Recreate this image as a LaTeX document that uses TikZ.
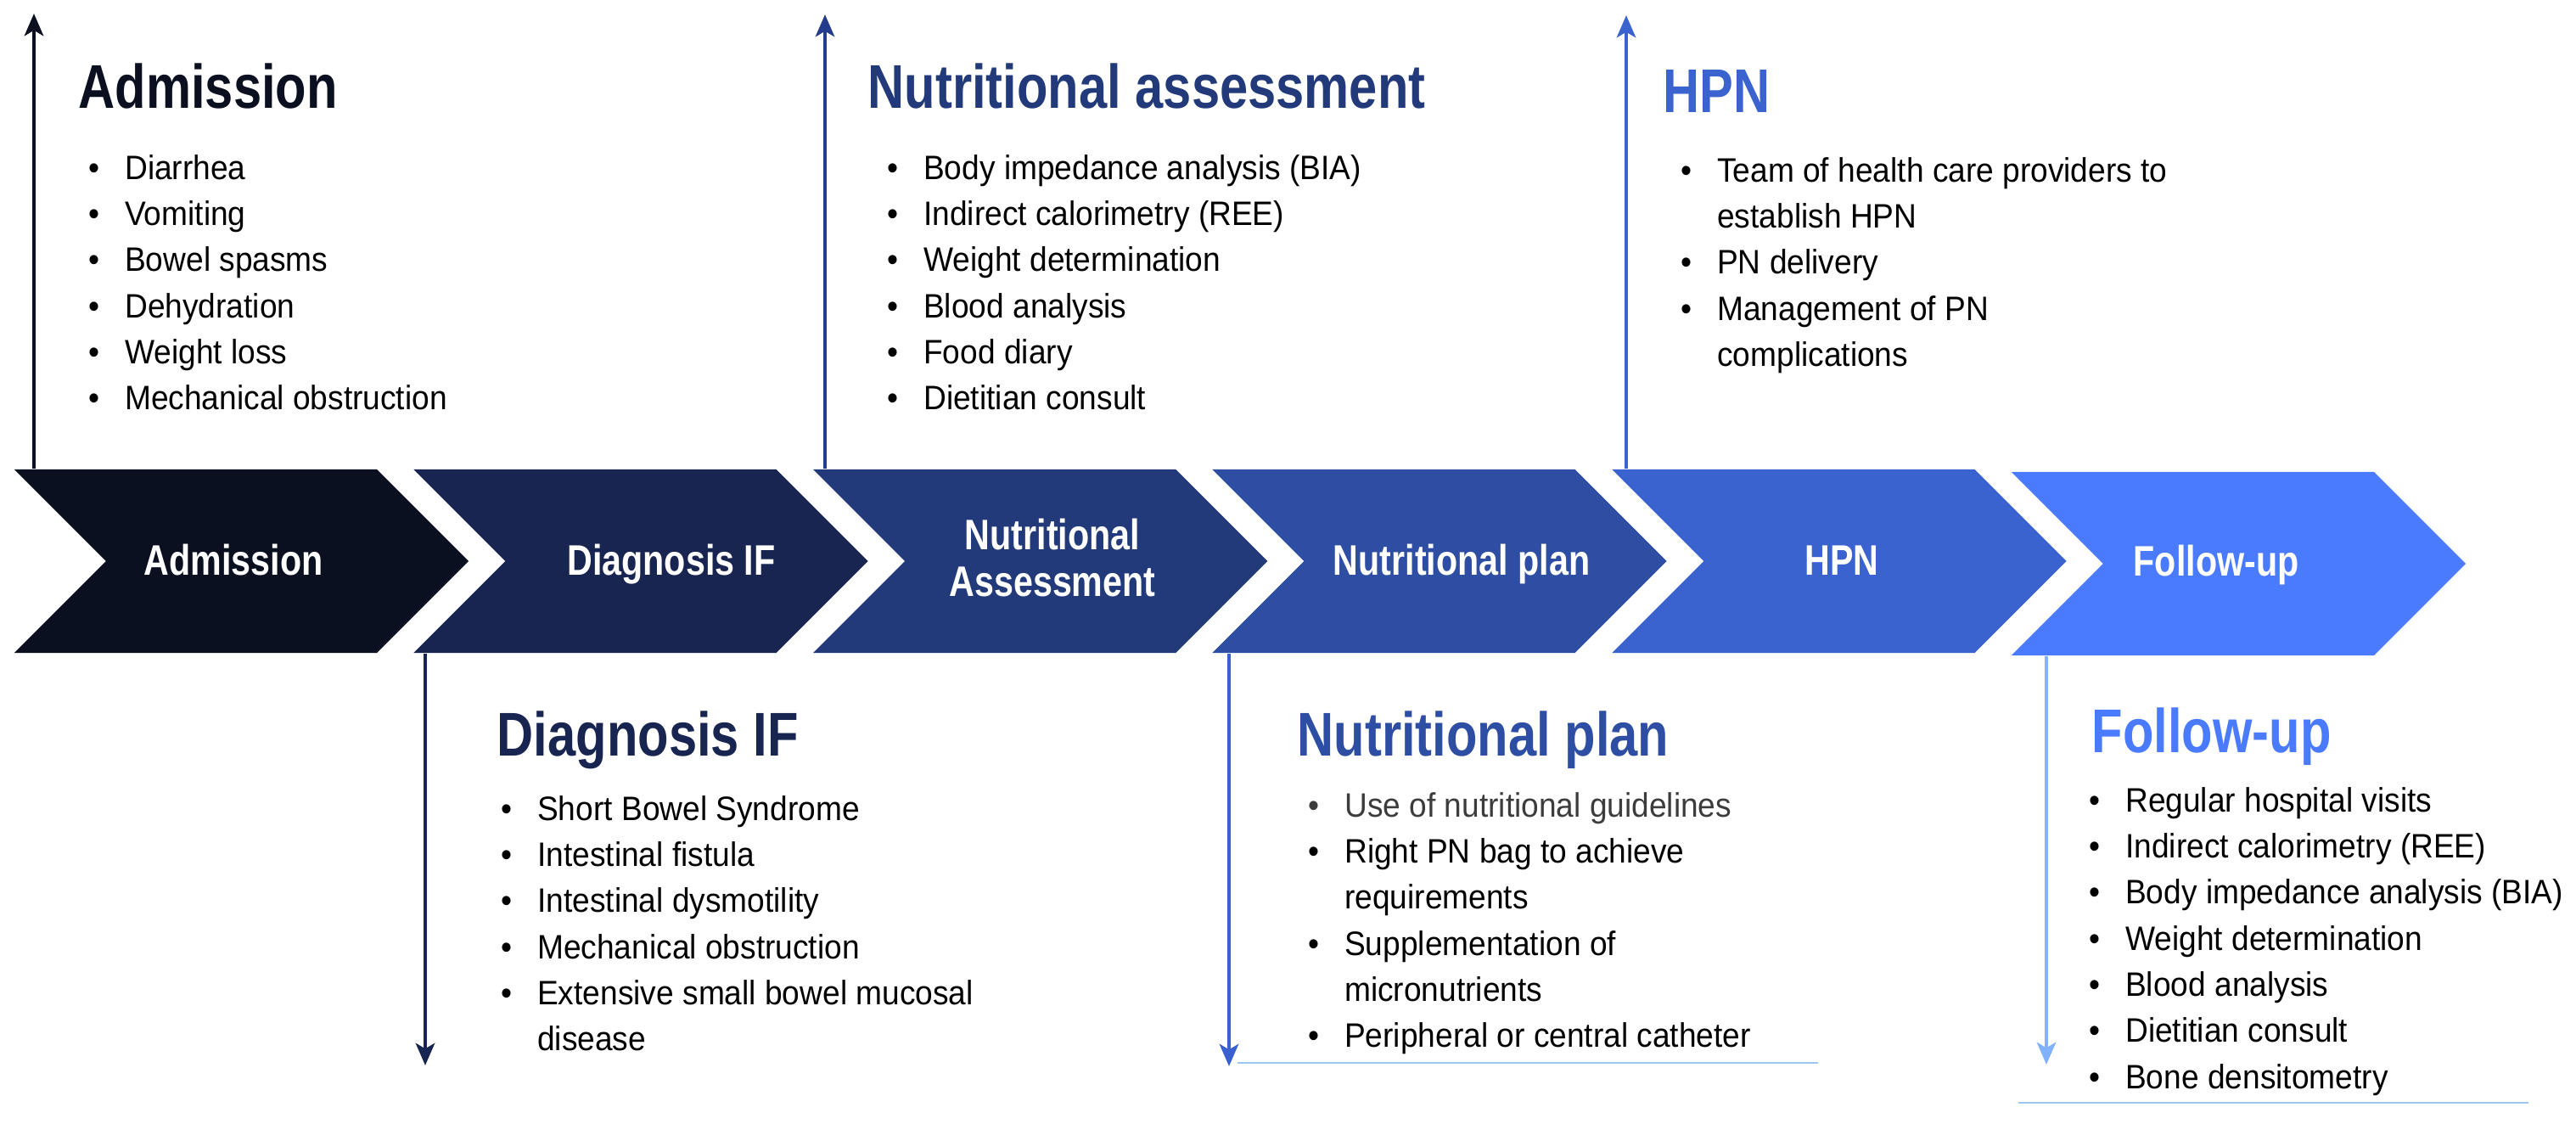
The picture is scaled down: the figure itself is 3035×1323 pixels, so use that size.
\documentclass[tikz,border=0pt]{standalone}
\usepackage{fontspec}
\setmainfont{Liberation Sans}[FakeStretch=0.93]
\newfontfamily\headfont{Liberation Sans}[FakeStretch=0.82]
\usetikzlibrary{arrows.meta,shapes.symbols}
\definecolor{stageA}{HTML}{0B1021}
\definecolor{stageB}{HTML}{172550}
\definecolor{stageC}{HTML}{223A7A}
\definecolor{stageD}{HTML}{2E4EA3}
\definecolor{stageE}{HTML}{3B63CF}
\definecolor{stageF}{HTML}{4A7BFF}
\definecolor{arrowC}{HTML}{253C8C}
\definecolor{arrowD}{HTML}{3A5FD0}
\definecolor{arrowF}{HTML}{82B1FF}
\definecolor{ruleblue}{HTML}{9CC6F2}
\definecolor{greytext}{HTML}{3C3C3C}
\tikzset{
  stem/.style = {line width=1.4pt, -{Stealth[length=7.4pt, width=6.3pt, inset=1.8pt]}},
  rule/.style = {ruleblue, line width=0.6pt}
}

\begin{document}
\begin{tikzpicture}[x=0.01cm, y=-0.01cm,
  chevron/.style = {signal, signal from=west, signal to=east, signal pointer angle=90, minimum width=5.35cm, minimum height=2.16cm, inner sep=0pt},
  stage/.style   = {white, anchor=base, align=center, inner sep=0pt, font=\headfont\bfseries\fontsize{14.3}{15.4}\selectfont},
  title/.style   = {anchor=base west, inner sep=0pt, font=\headfont\bfseries\fontsize{20.7}{24}\selectfont},
  items/.style   = {anchor=base west, inner sep=0pt, font=\fontsize{11.35}{15.45}\selectfont},
  ]
  \useasboundingbox (0,0) rectangle (3035,1323);
  % chevrons
  \node[chevron, fill=stageA] (adm)  at (284.5,661) {};
  \node[chevron, fill=stageB] (diag) at (755,661)   {};
  \node[chevron, fill=stageC] (nass) at (1225.7,661) {};
  \node[chevron, fill=stageD] (plan) at (1696,661)  {};
  \node[chevron, fill=stageE] (hpn)  at (2167,661)  {};
  \node[chevron, fill=stageF] (fol)  at (2637.5,664) {};
  \node[stage] (admtxt)  at (275,677)  {Admission};
  \node[stage] (diagtxt) at (791,677)  {Diagnosis IF};
  \node[stage] (nasstxt) at (1240,702) {Nutritional\\Assessment};
  \node[stage] (plantxt) at (1722,677) {Nutritional plan};
  \node[stage] (hpntxt)  at (2170,677) {HPN};
  \node[stage] (foltxt)  at (2611,678) {Follow-up};
  % arrows
  \coordinate (admup)   at (40,16);
  \coordinate (diagdn)  at (501,1255);
  \coordinate (nassup)  at (972,17);
  \coordinate (plandn)  at (1448,1256);
  \coordinate (hpnup)   at (1916,18);
  \coordinate (foldn)   at (2411,1254);
  \draw[stem, stageA] (admup |- adm.north)   -- (admup);
  \draw[stem, stageB] (diagdn |- diag.south) -- (diagdn);
  \draw[stem, arrowC] (nassup |- nass.north) -- (nassup);
  \draw[stem, arrowD] (plandn |- plan.south) -- (plandn);
  \draw[stem, stageE] (hpnup |- hpn.north)   -- (hpnup);
  \draw[stem, arrowF] (foldn |- fol.south)   -- (foldn);
  % titles
  \node[title, stageA] (admhead)  at (92,127)   {Admission};
  \node[title, stageB] (diaghead) at (585,890)  {Diagnosis IF};
  \node[title, stageC] (nasshead) at (1022,127) {Nutritional assessment};
  \node[title, stageD] (planhead) at (1528,890) {Nutritional plan};
  \node[title, stageE] (hpnhead)  at (1959,132) {HPN};
  \node[title, stageF] (folhead)  at (2464,886) {Follow-up};
  % lists
  \node[items] (admlist) at (104,211) {\begin{tabular}[t]{@{}l@{\hspace{8.4pt}}l@{}}
    \textbullet & Diarrhea\\
    \textbullet & Vomiting\\
    \textbullet & Bowel spasms\\
    \textbullet & Dehydration\\
    \textbullet & Weight loss\\
    \textbullet & Mechanical obstruction
  \end{tabular}};
  \node[items] (diaglist) at (590,966) {\begin{tabular}[t]{@{}l@{\hspace{8.4pt}}l@{}}
    \textbullet & Short Bowel Syndrome\\
    \textbullet & Intestinal fistula\\
    \textbullet & Intestinal dysmotility\\
    \textbullet & Mechanical obstruction\\
    \textbullet & Extensive small bowel mucosal\\
                & disease
  \end{tabular}};
  \node[items] (nasslist) at (1045,211) {\begin{tabular}[t]{@{}l@{\hspace{8.4pt}}l@{}}
    \textbullet & Body impedance analysis (BIA)\\
    \textbullet & Indirect calorimetry (REE)\\
    \textbullet & Weight determination\\
    \textbullet & Blood analysis\\
    \textbullet & Food diary\\
    \textbullet & Dietitian consult
  \end{tabular}};
  \node[items] (planlist) at (1541,962) {\begin{tabular}[t]{@{}l@{\hspace{8.4pt}}l@{}}
    \textcolor{greytext}{\textbullet} & \textcolor{greytext}{Use of nutritional guidelines}\\
    \textbullet & Right PN bag to achieve\\
                & requirements\\
    \textbullet & Supplementation of\\
                & micronutrients\\
    \textbullet & Peripheral or central catheter
  \end{tabular}};
  \node[items] (hpnlist) at (1980,214) {\begin{tabular}[t]{@{}l@{\hspace{8.4pt}}l@{}}
    \textbullet & Team of health care providers to\\
                & establish HPN\\
    \textbullet & PN delivery\\
    \textbullet & Management of PN\\
                & complications
  \end{tabular}};
  \node[items] (follist) at (2461,956) {\begin{tabular}[t]{@{}l@{\hspace{8.4pt}}l@{}}
    \textbullet & Regular hospital visits\\
    \textbullet & Indirect calorimetry (REE)\\
    \textbullet & Body impedance analysis (BIA)\\
    \textbullet & Weight determination\\
    \textbullet & Blood analysis\\
    \textbullet & Dietitian consult\\
    \textbullet & Bone densitometry
  \end{tabular}};
  % rules under the lower lists
  \draw[rule] (1458,1252) -- (2142,1252);
  \draw[rule] (2378,1299) -- (2979,1299);
\end{tikzpicture}
\end{document}
